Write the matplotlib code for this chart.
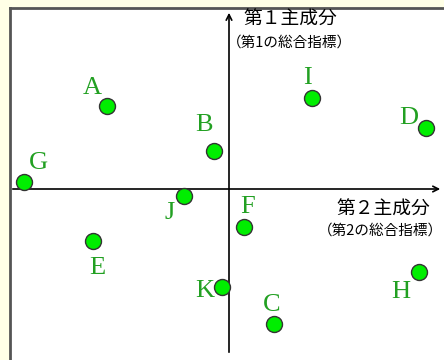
import matplotlib.pyplot as plt

plt.rcParams["font.family"] = ["Noto Sans CJK JP", "DejaVu Sans"]

names = ["A", "B", "C", "D", "E", "F", "G", "H", "I", "J", "K"]
pc2 = [-2.44, -0.30, 0.90, 3.94, -2.72, 0.30, -4.10, 3.80, 1.66, -0.90, -0.14]
pc1 = [1.66, 0.76, -2.70, 1.22, -1.04, -0.76, 0.14, -1.66, 1.82, -0.14, -1.96]
# label offsets in data units
lab_dx = [-0.30, -0.20, -0.04, -0.34, 0.08, 0.08, 0.28, -0.36, -0.10, -0.28, -0.34]
lab_dy = [0.36, 0.52, 0.38, 0.20, -0.54, 0.40, 0.38, -0.40, 0.40, -0.34, -0.08]


def main() -> None:
    fig = plt.figure(figsize=(4.44, 3.6), dpi=100)
    fig.patch.set_facecolor("#ffffe6")
    ax = fig.add_axes([10 / 444, 0, 434 / 444, 352 / 360])
    ax.set_xlim(-4.38, 4.30)
    ax.set_ylim(-3.42, 3.62)
    ax.set_facecolor("white")
    for s in ["right", "bottom"]:
        ax.spines[s].set_visible(False)
    for s in ["left", "top"]:
        ax.spines[s].set_color("#555555")
        ax.spines[s].set_linewidth(2)
    ax.set_xticks([])
    ax.set_yticks([])

    # axes arrows
    ax.annotate("", xy=(0, 3.58), xytext=(0, -3.32),
                arrowprops={"arrowstyle": "->", "lw": 1.2, "color": "black"})
    ax.annotate("", xy=(4.28, 0), xytext=(-4.38, 0),
                arrowprops={"arrowstyle": "->", "lw": 1.2, "color": "black"})

    ax.text(1.22, 3.39, "第１主成分", fontsize=13.5, ha="center", va="center")
    ax.text(1.21, 2.93, "（第1の総合指標）", fontsize=10.5, ha="center", va="center")
    ax.text(3.09, -0.41, "第２主成分", fontsize=13.5, ha="center", va="center")
    ax.text(3.02, -0.83, "（第2の総合指標）", fontsize=10.5, ha="center", va="center")

    ax.plot(pc2, pc1, "o", markersize=11.5, markerfacecolor="#00ee00",
            markeredgecolor="#333333", markeredgewidth=1, zorder=3)
    for n, x, y, dx, dy in zip(names, pc2, pc1, lab_dx, lab_dy):
        ax.text(x + dx, y + dy, n, fontsize=19, color="#22a022",
                family="Liberation Serif", ha="center", va="center")

    plt.savefig("out.png", dpi=100, facecolor=fig.get_facecolor())


if __name__ == "__main__":
    main()
